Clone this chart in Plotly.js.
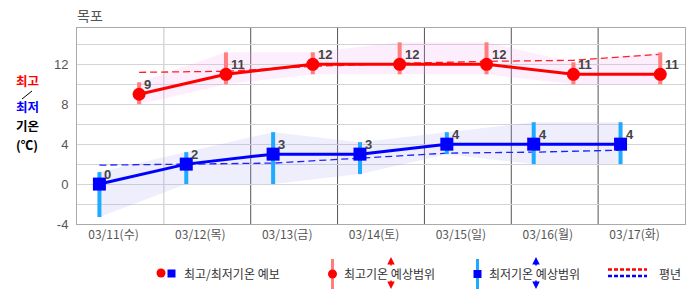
<!DOCTYPE html>
<html><head><meta charset="utf-8">
<script src="https://cdn.plot.ly/plotly-3.0.1.min.js"></script>
<style>html,body{margin:0;padding:0;background:#fff;}#chart{width:686px;height:295px;}</style>
</head><body><div id="chart"></div>
<script>
// ---- data ----
const dates = ['03/11(수)','03/12(목)','03/13(금)','03/14(토)','03/15(일)','03/16(월)','03/17(화)'];
const maxTemp = [9, 11, 12, 12, 12, 11, 11];
const maxRangeLow = [8, 10, 11, 11, 11, 10, 10];
const maxRangeHigh = [10.2, 13.2, 13.2, 14.2, 14.2, 12.2, 13.2];
const minTemp = [0, 2, 3, 3, 4, 4, 4];
const minRangeLow = [-3.3, 0, 0, 1, 3, 2, 2];
const minRangeHigh = [1.2, 3.2, 5.2, 4.2, 5.2, 6.2, 6.2];
const normalMax = [11.2, 11.3, 11.8, 12.1, 12.3, 12.4, 13.0];
const normalMin = [1.9, 2.0, 2.1, 2.6, 3.1, 3.2, 3.4];
const yTicks = [-4, -2, 0, 2, 4, 6, 8, 10, 12, 14];

// ---- layout helpers ----
const L = 77, T = 28, W = 608, H = 196;
const redX = dates.map((d, i) => i + 0.215);
const blueX = dates.map((d, i) => i - 0.242);
const px = x => (x - L) / W;
const py = y => (T + H - y) / H;
const KR = '"Noto Sans CJK KR", "Noto Sans", sans-serif';

function bars(xs, lo, hi) {
  const X = [], Y = [];
  xs.forEach((x, i) => { X.push(x, x, null); Y.push(lo[i], hi[i], null); });
  return {x: X, y: Y};
}
const rb = bars(redX, maxRangeLow, maxRangeHigh);
const bb = bars(blueX, minRangeLow, minRangeHigh);

const traces = [
  {x: redX, y: maxRangeLow, mode: 'lines', line: {width: 0, color: 'rgba(0,0,0,0)'}, hoverinfo: 'skip'},
  {x: redX, y: maxRangeHigh, mode: 'lines', line: {width: 0, color: 'rgba(0,0,0,0)'}, fill: 'tonexty', fillcolor: 'rgba(240,160,240,0.18)', hoverinfo: 'skip'},
  {x: blueX, y: minRangeLow, mode: 'lines', line: {width: 0, color: 'rgba(0,0,0,0)'}, hoverinfo: 'skip'},
  {x: blueX, y: minRangeHigh, mode: 'lines', line: {width: 0, color: 'rgba(0,0,0,0)'}, fill: 'tonexty', fillcolor: 'rgba(160,160,240,0.18)', hoverinfo: 'skip'},
  {x: redX, y: normalMax, mode: 'lines', line: {color: '#FF2020', width: 1.3, dash: '7px,4px'}},
  {x: blueX, y: normalMin, mode: 'lines', line: {color: '#2222FF', width: 1.3, dash: '7px,4px'}},
  {x: rb.x, y: rb.y, mode: 'lines', line: {color: '#FF7F7F', width: 4}, connectgaps: false},
  {x: bb.x, y: bb.y, mode: 'lines', line: {color: '#1EAAFF', width: 4}, connectgaps: false},
  {x: redX, y: maxTemp, mode: 'lines+markers', line: {color: '#FF0000', width: 3}, marker: {symbol: 'circle', size: 13, color: '#FF0000'}},
  {x: blueX, y: minTemp, mode: 'lines+markers', line: {color: '#0000FF', width: 3}, marker: {symbol: 'square', size: 13, color: '#0000FF'}}
];

const annotations = [];
const numFont = {family: '"Liberation Sans", Arial, sans-serif', size: 13, color: '#444', weight: 'bold'};
maxTemp.forEach((v, i) => annotations.push({x: redX[i], y: v, xref: 'x', yref: 'y', text: String(v), showarrow: false, xanchor: 'left', yanchor: 'middle', xshift: 3, yshift: 10, font: numFont}));
minTemp.forEach((v, i) => annotations.push({x: blueX[i], y: v, xref: 'x', yref: 'y', text: String(v), showarrow: false, xanchor: 'left', yanchor: 'middle', xshift: 3, yshift: 10, font: numFont}));

// y-axis label
const ylab = [['최고', '#FF0000', 80], ['최저', '#0000FF', 107], ['기온', '#000', 125.5], ['(℃)', '#000', 144]];
ylab.forEach(a => annotations.push({xref: 'paper', yref: 'paper', x: px(27), y: py(a[2]), text: '<b>' + a[0] + '</b>', showarrow: false, xanchor: 'center', yanchor: 'middle', font: {family: KR, size: 12.5, color: a[1]}}));

// legend texts
const lt = [['최고/최저기온 예보', 182], ['최고기온 예상범위', 342], ['최저기온 예상범위', 487], ['평년', 657]];
lt.forEach(a => annotations.push({xref: 'paper', yref: 'paper', x: px(a[1]), y: py(273), text: a[0], showarrow: false, xanchor: 'left', yanchor: 'middle', font: {family: KR, size: 12, color: '#333'}}));
// legend arrows
[[391, '#FF0000'], [536, '#0000FF']].forEach(a => {
  annotations.push({xref: 'paper', yref: 'paper', x: px(a[0]), y: py(257), ax: 0, ay: 10, text: '', showarrow: true, arrowhead: 2, arrowsize: 1, arrowwidth: 1.5, arrowcolor: a[1], standoff: 0, startstandoff: 0});
  annotations.push({xref: 'paper', yref: 'paper', x: px(a[0]), y: py(289), ax: 0, ay: -10, text: '', showarrow: true, arrowhead: 2, arrowsize: 1, arrowwidth: 1.5, arrowcolor: a[1], standoff: 0, startstandoff: 0});
});

const shapes = [];
for (let i = 0; i < dates.length - 1; i++) {
  shapes.push({type: 'line', xref: 'x', yref: 'paper', x0: i + 0.5, x1: i + 0.5, y0: 0, y1: 1, line: {color: i === 0 ? '#c4c4c4' : '#555', width: 1}, layer: 'below'});
}
// y-label slash
shapes.push({type: 'line', xref: 'paper', yref: 'paper', x0: px(22), y0: py(99), x1: px(32), y1: py(91), line: {color: '#000', width: 1}});
// legend marks
shapes.push({type: 'circle', xref: 'paper', yref: 'paper', x0: px(156.5), x1: px(165.5), y0: py(277.5), y1: py(268.5), fillcolor: '#FF0000', line: {width: 0}});
shapes.push({type: 'rect', xref: 'paper', yref: 'paper', x0: px(167.5), x1: px(175.5), y0: py(277.5), y1: py(269.5), fillcolor: '#0000FF', line: {width: 0}});
shapes.push({type: 'line', xref: 'paper', yref: 'paper', x0: px(332.5), x1: px(332.5), y0: py(259), y1: py(289), line: {color: '#FF7F7F', width: 3}});
shapes.push({type: 'circle', xref: 'paper', yref: 'paper', x0: px(328), x1: px(337), y0: py(278.5), y1: py(269.5), fillcolor: '#FF0000', line: {width: 0}});
shapes.push({type: 'line', xref: 'paper', yref: 'paper', x0: px(477.5), x1: px(477.5), y0: py(259), y1: py(289), line: {color: '#1EAAFF', width: 3}});
shapes.push({type: 'rect', xref: 'paper', yref: 'paper', x0: px(473.5), x1: px(481.5), y0: py(278), y1: py(270), fillcolor: '#0000FF', line: {width: 0}});
shapes.push({type: 'line', xref: 'paper', yref: 'paper', x0: px(608), x1: px(647), y0: py(269.5), y1: py(269.5), line: {color: '#FF0000', width: 2.5, dash: '4px,2px'}});
shapes.push({type: 'line', xref: 'paper', yref: 'paper', x0: px(608), x1: px(647), y0: py(276), y1: py(276), line: {color: '#0000FF', width: 2.5, dash: '4px,2px'}});

const layout = {
  width: 686, height: 295,
  margin: {l: L, r: 686 - L - W, t: T, b: 295 - T - H, pad: 0},
  paper_bgcolor: '#fff', plot_bgcolor: '#fff',
  showlegend: false,
  title: {text: '목포', x: 77 / 686, xanchor: 'left', xref: 'container', y: 1 - 16 / 295, yanchor: 'middle', font: {family: KR, size: 14, color: '#555'}},
  xaxis: {range: [-0.5, 6.5], tickvals: dates.map((d, i) => i - 0.08), ticktext: dates, showgrid: false, zeroline: false, showline: true, linecolor: '#aaa', linewidth: 1, mirror: true, ticks: '', tickfont: {family: KR, size: 12, color: '#555'}, fixedrange: true},
  yaxis: {range: [-4, 15.64], tickvals: yTicks, ticktext: yTicks.map(v => v % 4 === 0 ? String(v) : ''), showgrid: true, gridcolor: '#d4d4d4', gridwidth: 1, zeroline: false, showline: true, linecolor: '#aaa', linewidth: 1, mirror: true, ticks: 'outside', ticklen: 5, tickcolor: 'rgba(0,0,0,0)', tickfont: {family: '"Liberation Sans", Arial, sans-serif', size: 13, color: '#555'}, fixedrange: true},
  annotations: annotations,
  shapes: shapes
};
Plotly.newPlot('chart', traces, layout, {displayModeBar: false, staticPlot: true});
</script></body></html>
